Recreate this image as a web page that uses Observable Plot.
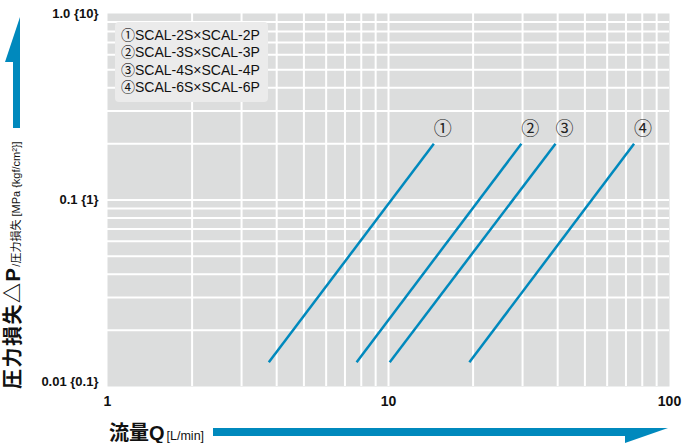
<!DOCTYPE html>
<html><head><meta charset="utf-8">
<script src="https://cdn.jsdelivr.net/npm/d3@7"></script>
<script src="https://cdn.jsdelivr.net/npm/@observablehq/plot@0.6"></script>
<style>
body{margin:0;background:#fff;}
#chart{width:696px;height:443px;}
</style>
</head><body><div id="chart"></div>
<script>
// ---- data ----
const seriesIds = ["①", "②", "③", "④"];
const legendLabels = ["①SCAL-2S×SCAL-2P", "②SCAL-3S×SCAL-3P", "③SCAL-4S×SCAL-4P", "④SCAL-6S×SCAL-6P"];
const flowStart = [3.75, 7.7, 10.1, 19.4];   // L/min
const flowEnd   = [14.5, 29.7, 39.3, 74.8];  // L/min
const dpStart   = [0.0135, 0.0135, 0.0135, 0.0135]; // MPa
const dpEnd     = [0.2, 0.2, 0.2, 0.2];              // MPa
const xTicks = [1, 10, 100];
const xTickLabels = ["1", "10", "100"];
const yTicks = [1, 0.1, 0.01];
const yTickLabels = ["1.0 {10}", "0.1 {1}", "0.01 {0.1}"];
const xGrid = [2, 3, 4, 5, 6, 7, 8, 9, 10, 20, 30, 40, 50, 60, 70, 80, 90];
const yGrid = [0.02, 0.03, 0.04, 0.05, 0.06, 0.07, 0.08, 0.09, 0.1, 0.2, 0.3, 0.4, 0.5, 0.6, 0.7, 0.8, 0.9];
const xTitle = "流量Q";
const xUnit = "[L/min]";
const yTitle = "圧力損失△P";
const yUnit = "/圧力損失 [MPa {kgf/cm²}]";

// ---- tables ----
const rows = seriesIds.map((id, i) => ({id, q1: flowStart[i], q2: flowEnd[i], p1: dpStart[i], p2: dpEnd[i]}));
const xLab = xTicks.map((v, i) => ({v, t: xTickLabels[i]}));
const yLab = yTicks.map((v, i) => ({v, t: yTickLabels[i]}));

const blue = "#0089bd";
const latin = `"Liberation Sans", Arial, Helvetica, sans-serif`;
const cjk = `"Liberation Sans", "Noto Sans CJK JP", sans-serif`;

const plot = Plot.plot({
  width: 696, height: 443,
  marginLeft: 107, marginRight: 27, marginTop: 13, marginBottom: 57,
  x: {type: "log", domain: [1, 100], axis: null},
  y: {type: "log", domain: [0.01, 1], axis: null},
  style: {fontFamily: latin, background: "white", color: "#111", overflow: "visible"},
  marks: [
    Plot.frame({fill: "#dcdddd", stroke: "none"}),
    Plot.ruleX(xGrid, {stroke: "white", strokeWidth: 2}),
    Plot.ruleY(yGrid, {stroke: "white", strokeWidth: 2}),
    Plot.link(rows, {x1: "q1", y1: "p1", x2: "q2", y2: "p2", stroke: blue, strokeWidth: 2.5}),
    Plot.text(rows, {x: "q2", y: "p2", text: "id", dx: 9, dy: -15, fontSize: 18, fontFamily: `"Noto Sans CJK JP", "DejaVu Sans", sans-serif`, fill: "#222"}),
    Plot.text(yLab.slice(0, 2), {y: "v", text: "t", frameAnchor: "left", textAnchor: "end", dx: -9, fontWeight: "bold", fontSize: 13}),
    Plot.text(yLab.slice(2), {y: "v", text: "t", frameAnchor: "left", textAnchor: "end", dx: -9, dy: -5, fontWeight: "bold", fontSize: 13}),
    Plot.text(xLab, {x: "v", text: "t", frameAnchor: "bottom", dy: 15, lineAnchor: "middle", fontWeight: "bold", fontSize: 14})
  ]
});
document.getElementById("chart").appendChild(plot);

// ---- decorations: legend box, axis titles and arrows ----
const svg = d3.select(plot);
const deco = svg.append("g").attr("text-anchor", "start");
deco.append("rect").attr("x", 115).attr("y", 22).attr("width", 153).attr("height", 80).attr("rx", 4).attr("fill", "#ebebeb");
deco.append("g").attr("font-family", `"Liberation Sans", Arial, "Noto Sans CJK JP", sans-serif`).attr("font-size", 14).attr("fill", "#111")
  .selectAll("text").data(legendLabels).join("text")
  .attr("text-anchor", "start")
  .attr("x", 121).attr("y", (d, i) => 35 + i * 17.4).attr("dy", "0.35em").text(d => d);

// y arrow + title
deco.append("path").attr("d", "M20,128 L20,17 L5,62 L13,62 L13,128 Z").attr("fill", blue);
const yt = deco.append("text").attr("text-anchor", "start").attr("transform", "translate(20,389) rotate(-90)").attr("font-family", cjk).attr("fill", "#111");
yt.append("tspan").attr("font-size", 20).attr("font-weight", "bold").attr("letter-spacing", 1.5).text(yTitle);
yt.append("tspan").attr("font-size", 11).text(yUnit);

// x arrow + title
deco.append("path").attr("d", "M213,428 L668,428 L625,443 L625,436 L213,436 Z").attr("fill", blue);
const xt = deco.append("text").attr("text-anchor", "start").attr("x", 109).attr("y", 440).attr("font-family", cjk).attr("fill", "#111");
xt.append("tspan").attr("font-size", 20).attr("font-weight", "bold").text(xTitle);
xt.append("tspan").attr("font-size", 12.5).attr("dx", 2).text(xUnit);
</script>
</body></html>
